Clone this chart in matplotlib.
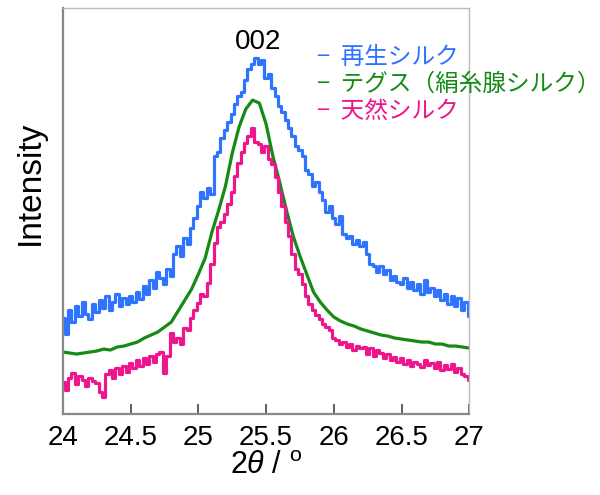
import matplotlib

matplotlib.use("Agg")
import matplotlib.pyplot as plt
import numpy as np

# 2theta grids
x_fine = np.round(np.arange(121) * 0.025 + 24.0, 3)
x_coarse = np.round(np.arange(61) * 0.05 + 24.0, 3)

# intensities (arb. units)
regen = [
    96, 80, 104, 92, 108, 98, 112, 100, 95, 110,
    102, 114, 106, 118, 104, 112, 120, 108, 116, 110,
    118, 112, 122, 115, 128, 120, 134, 126, 142, 136,
    130, 145, 138, 160, 168, 158, 176, 170, 186, 196,
    208, 222, 216, 226, 220, 258, 262, 276, 284, 292,
    300, 310, 318, 322, 334, 345, 350, 356, 350, 354,
    336, 340, 326, 318, 308, 302, 294, 286, 278, 268,
    264, 258, 244, 240, 228, 232, 222, 214, 202, 208,
    196, 190, 198, 180, 176, 178, 170, 174, 168, 172,
    160, 150, 148, 142, 148, 140, 144, 134, 138, 132,
    130, 136, 126, 132, 124, 130, 120, 134, 122, 126,
    118, 124, 114, 120, 110, 118, 108, 116, 104, 112, 98,
]
tegusu = [
    62, 61, 60, 61, 62, 63, 65, 64, 67, 68,
    70, 72, 76, 79, 82, 87, 92, 103, 114, 125,
    140, 156, 182, 204, 228, 261, 287, 305, 314, 311,
    290, 258, 232, 204, 178, 158, 140, 122, 112, 104,
    97, 93, 90, 88, 85, 83, 81, 79, 78, 76,
    75, 74, 73, 72, 72, 70, 70, 68, 68, 67, 66,
]
natural = [
    32, 24, 36, 41, 30, 38, 34, 28, 36, 33,
    31, 22, 17, 40, 44, 36, 46, 40, 48, 42,
    51, 46, 54, 48, 56, 50, 58, 52, 60, 62,
    41, 58, 81, 72, 76, 70, 86, 84, 96, 104,
    111, 120, 118, 131, 150, 171, 187, 192, 200, 210,
    222, 238, 251, 262, 271, 278, 286, 272, 270, 262,
    268, 255, 250, 237, 222, 208, 192, 178, 160, 145,
    140, 130, 118, 110, 104, 99, 95, 90, 87, 84,
    76, 74, 70, 72, 67, 70, 64, 68, 66, 67,
    60, 66, 58, 64, 61, 56, 60, 54, 57, 52,
    56, 50, 54, 48, 52, 50, 47, 54, 49, 51,
    46, 52, 44, 49, 45, 50, 42, 46, 40, 38, 34,
]

labels = ["再生シルク", "テグス（絹糸腺シルク）", "天然シルク"]
colors = ["#2f74ff", "#158a15", "#ee168c"]
xticks = [24, 24.5, 25, 25.5, 26, 26.5, 27]

plt.rcParams["font.family"] = ["Liberation Sans", "DejaVu Sans"]
plt.rcParams["mathtext.fontset"] = "custom"
plt.rcParams["mathtext.it"] = "Liberation Sans:italic"
plt.rcParams["mathtext.rm"] = "Liberation Sans"

fig = plt.figure(figsize=(6.0, 4.95), dpi=100)
ax = fig.add_axes([0.105, 0.1636, 0.677, 0.82])

ax.plot(x_fine, regen, color=colors[0], lw=2.3, drawstyle="steps-mid")
ax.plot(x_coarse, tegusu, color=colors[1], lw=2.3)
ax.plot(x_fine, natural, color=colors[2], lw=2.3, drawstyle="steps-mid")

ax.set_xlim(24, 27)
ax.set_ylim(0, 406)
ax.set_xticks(xticks)
ax.set_xticklabels(["24", "24.5", "25", "25.5", "26", "26.5", "27"])
ax.set_yticks([])
ax.tick_params(axis="x", direction="in", length=7, width=1.2, color="#444444",
               labelsize=20, pad=8)
for side, sp in ax.spines.items():
    sp.set_color("#888888" if side in ("left", "bottom") else "#bbbbbb")
    sp.set_linewidth(1.6 if side in ("left", "bottom") else 1.0)

ax.set_xlabel(r"2$\it{\theta}$ / $^{\rm o}$", fontsize=22, labelpad=0)
ax.set_ylabel("Intensity", fontsize=24)
ax.yaxis.set_label_coords(-0.043, 0.57)

ax.text(25.44, 372, "002", fontsize=20, ha="center", va="center")

cjk = ["Noto Sans CJK JP", "DejaVu Sans"]
for i, (lab, c) in enumerate(zip(labels, colors)):
    fig.text(0.528, 0.884 - i * 0.055, "−  " + lab, color=c, fontsize=17,
             family=cjk, va="center", ha="left")

fig.savefig("out.png", dpi=100)
